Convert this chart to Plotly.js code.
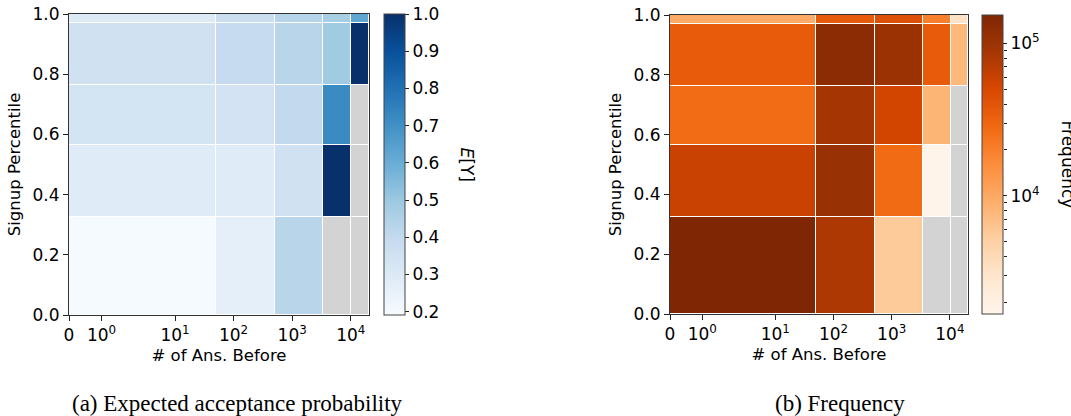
<!DOCTYPE html>
<html>
<head>
<meta charset="utf-8">
<script src="https://cdn.plot.ly/plotly-3.0.1.min.js"></script>
<style>html,body{margin:0;padding:0;background:#fff;}#chart{width:1071px;height:416px;}</style>
</head>
<body>
<div id="chart"></div>
<script>
// ---- data ----
const xEdges = [0, 51, 515, 3400, 10300, 20500];          // # of answers before (bin edges)
const yEdges = [0, 0.325, 0.565, 0.763, 0.971, 1.0];       // signup percentile (bin edges)
const xTickVals = [0, 1, 10, 100, 1000, 10000];
const xTickText = ['0', '10<sup>0</sup>', '10<sup>1</sup>', '10<sup>2</sup>', '10<sup>3</sup>', '10<sup>4</sup>'];
const yTickVals = [0, 0.2, 0.4, 0.6, 0.8, 1.0];
const eyTickVals = [0.2, 0.3, 0.4, 0.5, 0.6, 0.7, 0.8, 0.9, 1.0];
// rows: bottom -> top, columns: left -> right
const expectedY = [
  [0.200, 0.264, 0.426, null, null],
  [0.290, 0.290, 0.353, 1.000, null],
  [0.337, 0.340, 0.400, 0.717, null],
  [0.353, 0.393, 0.426, 0.490, 1.000],
  [0.300, 0.377, 0.430, 0.470, 0.624]
];
const frequency = [
  [153000, 81000, 5700, null, null],
  [59000, 107000, 28000, 1770, null],
  [27500, 89000, 54000, 8200, null],
  [36000, 128000, 102000, 36000, 7800],
  [9600, 36000, 43600, 20000, 3300]
];
const freqMajorTicks = [1e4, 1e5];
const freqMajorText = ['10<sup>4</sup>', '10<sup>5</sup>'];
const freqMinorTicks = [2000, 3000, 4000, 5000, 6000, 7000, 8000, 9000, 20000, 30000, 40000, 50000, 60000, 70000, 80000, 90000];

// ---- scales ----
function symlog(v) { const t = 2, adj = 1 / (1 - 1 / 10); return v <= t ? v / t * adj : adj + Math.log10(v / t); }
const W = 1071, H = 416;
const blues = [[0,'#f7fbff'],[0.125,'#deebf7'],[0.25,'#c6dbef'],[0.375,'#9ecae1'],[0.5,'#6baed6'],[0.625,'#4292c6'],[0.75,'#2171b5'],[0.875,'#08519c'],[1,'#08306b']];
const oranges = [[0,'#fff5eb'],[0.125,'#fee6ce'],[0.25,'#fdd0a2'],[0.375,'#fdae6b'],[0.5,'#fd8d3c'],[0.625,'#f16913'],[0.75,'#d94801'],[0.875,'#a63603'],[1,'#7f2704']];
const grey = [[0,'#d3d3d3'],[1,'#d3d3d3']];
const xT = xEdges.map(symlog);
const nanMaskE = expectedY.map(r => r.map(v => v === null ? 1 : null));
const nanMaskF = frequency.map(r => r.map(v => v === null ? 1 : null));
const logFreq = frequency.map(r => r.map(v => v === null ? null : Math.log10(v)));
const FONT = 'DejaVu Sans';
const fs = 16.5, tfs = 17;

const cb = (xpx, ypxTop, ypxBot) => ({
  x: xpx / W, xanchor: 'left', xpad: 0, ypad: 0,
  y: 1 - ((ypxTop + ypxBot) / 2) / H, yanchor: 'middle',
  len: ypxBot - ypxTop, lenmode: 'pixels', thickness: 21, thicknessmode: 'pixels',
  outlinewidth: 1, outlinecolor: '#444',
  ticks: 'outside', ticklen: 4, tickwidth: 1, tickcolor: '#222',
  tickfont: {family: FONT, size: tfs, color: '#000'}
});

const traces = [
  {type: 'heatmap', x: xT, y: yEdges, z: nanMaskE, colorscale: grey, showscale: false,
   xgap: 1, ygap: 1, hoverinfo: 'skip', xaxis: 'x', yaxis: 'y'},
  {type: 'heatmap', x: xT, y: yEdges, z: expectedY, colorscale: blues, zmin: 0.191, zmax: 1.0,
   xgap: 1, ygap: 1, hoverinfo: 'skip', xaxis: 'x', yaxis: 'y',
   colorbar: Object.assign(cb(384, 14, 315), {tickvals: eyTickVals, tickformat: '.1f'})},
  {type: 'heatmap', x: xT, y: yEdges, z: nanMaskF, colorscale: grey, showscale: false,
   xgap: 1, ygap: 1, hoverinfo: 'skip', xaxis: 'x2', yaxis: 'y2'},
  {type: 'heatmap', x: xT, y: yEdges, z: logFreq, colorscale: oranges, zmin: 3.227, zmax: 5.185,
   xgap: 1, ygap: 1, hoverinfo: 'skip', xaxis: 'x2', yaxis: 'y2',
   colorbar: Object.assign(cb(982, 15, 314), {tickvals: freqMajorTicks.map(Math.log10), ticktext: freqMajorText})},
  {type: 'scatter', x: [], y: [], xaxis: 'x2', yaxis: 'y3', hoverinfo: 'skip', showlegend: false}
];

const xax = (x0, x1) => ({
  domain: [x0 / W, x1 / W], range: [0, symlog(xEdges[xEdges.length - 1])], fixedrange: true,
  tickvals: xTickVals.map(symlog), ticktext: xTickText, ticks: 'outside', ticklen: 5, tickwidth: 1, tickcolor: '#222',
  tickfont: {family: FONT, size: tfs, color: '#000'},
  showgrid: false, zeroline: false, showline: true, mirror: true, linecolor: '#333', linewidth: 1,
  title: {text: '# of Ans. Before', font: {family: FONT, size: fs, color: '#000'}, standoff: 5}
});
const yax = (t, b) => ({
  domain: [1 - b / H, 1 - t / H], range: [0, 1], fixedrange: true,
  tickvals: yTickVals, tickformat: '.1f', ticks: 'outside', ticklen: 5, tickwidth: 1, tickcolor: '#222',
  tickfont: {family: FONT, size: tfs, color: '#000'},
  showgrid: false, zeroline: false, showline: true, mirror: true, linecolor: '#333', linewidth: 1,
  title: {text: 'Signup Percentile', font: {family: FONT, size: fs, color: '#000'}, standoff: 7}
});

const layout = {
  width: W, height: H, margin: {l: 0, r: 0, t: 0, b: 0},
  paper_bgcolor: '#fff', plot_bgcolor: '#fff', showlegend: false,
  xaxis: Object.assign(xax(69, 369), {anchor: 'y'}),
  yaxis: Object.assign(yax(14, 315), {anchor: 'x'}),
  xaxis2: Object.assign(xax(670, 968), {anchor: 'y2'}),
  yaxis2: Object.assign(yax(15, 314), {anchor: 'x2'}),
  yaxis3: {overlaying: 'y2', anchor: 'free', position: 1003 / W, side: 'right', type: 'log',
    range: [3.227, 5.185], tickvals: freqMinorTicks, ticks: 'outside', ticklen: 2.5,
    tickwidth: 1, tickcolor: '#222', showticklabels: false, showgrid: false, zeroline: false, showline: false, fixedrange: true},
  annotations: [
    {text: '<i>E</i>[Y]', x: 467 / W, y: 1 - 164.5 / H, xref: 'paper', yref: 'paper', showarrow: false,
     textangle: 90, xanchor: 'center', yanchor: 'middle', font: {family: FONT, size: tfs, color: '#000'}},
    {text: 'Frequency', x: 1068 / W, y: 1 - 164.5 / H, xref: 'paper', yref: 'paper', showarrow: false,
     textangle: 90, xanchor: 'center', yanchor: 'middle', font: {family: FONT, size: tfs, color: '#000'}},
    {text: '(a) Expected acceptance probability', x: 237 / W, y: 1 - 403 / H, xref: 'paper', yref: 'paper', showarrow: false,
     xanchor: 'center', yanchor: 'middle', font: {family: 'Liberation Serif', size: 23, color: '#000'}},
    {text: '(b) Frequency', x: 840 / W, y: 1 - 403 / H, xref: 'paper', yref: 'paper', showarrow: false,
     xanchor: 'center', yanchor: 'middle', font: {family: 'Liberation Serif', size: 23, color: '#000'}}
  ]
};

Plotly.newPlot('chart', traces, layout, {staticPlot: true, displayModeBar: false});
</script>
</body>
</html>
